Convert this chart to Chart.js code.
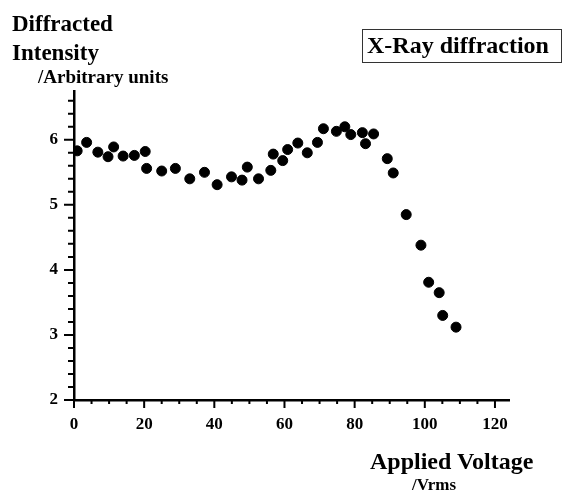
<!DOCTYPE html>
<html lang="en">
<head>
    <meta charset="UTF-8">
    <title>X-Ray diffraction</title>
    <script src="https://cdn.jsdelivr.net/npm/chart.js"></script>
    <style>
        body {
            margin: 0;
            background: #fff;
            font-family: 'Liberation Serif', 'Times New Roman', serif;
            font-weight: bold;
            color: #000;
        }
        .wrap {
            position: relative;
            width: 570px;
            height: 494px;
            overflow: hidden;
        }
        .lbl {
            position: absolute;
            white-space: nowrap;
            line-height: 1;
        }
        .box {
            position: absolute;
            left: 362px;
            top: 29px;
            width: 200px;
            height: 34px;
            border: 1px solid #333;
            box-sizing: border-box;
        }
    </style>
</head>
<body>
<div class="wrap">
    <canvas id="xrdChart" width="570" height="494"></canvas>
    <div class="lbl" style="left:12px;top:12px;font-size:23px;">Diffracted</div>
    <div class="lbl" style="left:12px;top:41px;font-size:23px;">Intensity</div>
    <div class="lbl" style="left:38px;top:67px;font-size:19px;">/Arbitrary units</div>
    <div class="box"></div>
    <div class="lbl" style="left:367px;top:33px;font-size:24px;">X-Ray diffraction</div>
    <div class="lbl" style="left:370px;top:449px;font-size:24px;">Applied Voltage</div>
    <div class="lbl" style="left:412px;top:476px;font-size:17px;">/Vrms</div>
</div>

<script>
    // applied voltage (Vrms) and diffracted intensity
    const voltage = [0.9, 3.6, 6.8, 9.7, 11.3, 14.0, 17.2, 20.3, 20.7, 25.0, 28.9, 33.0, 37.2, 40.8,
        44.9, 47.9, 49.4, 52.6, 56.1, 56.8, 59.5, 60.9, 63.8, 66.5, 69.4, 71.1, 74.8, 77.2,
        78.9, 82.2, 83.1, 85.4, 89.3, 91.0, 94.7, 98.9, 101.1, 104.1, 105.1, 108.9];
    const intensity = [5.83, 5.96, 5.81, 5.74, 5.89, 5.75, 5.76, 5.82, 5.56, 5.52, 5.56, 5.40, 5.50, 5.31,
        5.43, 5.38, 5.58, 5.40, 5.53, 5.78, 5.68, 5.85, 5.95, 5.80, 5.96, 6.17, 6.13, 6.20,
        6.08, 6.11, 5.94, 6.09, 5.71, 5.49, 4.85, 4.38, 3.81, 3.65, 3.30, 3.12];
    const xTicks = [0, 20, 40, 60, 80, 100, 120];
    const yTicks = [2, 3, 4, 5, 6];

    const points = voltage.map((v, i) => ({ x: v, y: intensity[i] }));
    const tickFont = { family: "'Liberation Serif', 'Times New Roman', serif", size: 17, weight: 'bold' };

    // major + minor tick marks drawn outside the axes, like the original plot
    const tickMarks = {
        id: 'tickMarks',
        beforeDatasetsDraw(chart) {
            const c = chart.ctx;
            const xs = chart.scales.x, ys = chart.scales.y;
            const left = chart.chartArea.left, bottom = chart.chartArea.bottom;
            c.save();
            c.strokeStyle = '#000';
            c.lineWidth = 2;
            c.beginPath();
            for (let v = 0; v <= 120; v += 5) {
                const px = xs.getPixelForValue(v);
                const len = v % 20 === 0 ? 8 : 4;
                c.moveTo(px, bottom);
                c.lineTo(px, bottom + len);
            }
            for (let k = 0; k <= 23; k++) {
                const v = 2 + k * 0.2;
                const py = ys.getPixelForValue(v);
                const len = k % 5 === 0 ? 10 : 6;
                c.moveTo(left, py);
                c.lineTo(left - len, py);
            }
            c.stroke();
            c.restore();
        }
    };

    new Chart(document.getElementById('xrdChart'), {
        type: 'scatter',
        data: {
            datasets: [{
                data: points,
                backgroundColor: '#000',
                borderColor: '#000',
                pointRadius: 5,
                pointHoverRadius: 5
            }]
        },
        options: {
            responsive: false,
            animation: false,
            layout: { padding: { left: 0, top: 91, right: 61, bottom: 0 } },
            plugins: { legend: { display: false }, tooltip: { enabled: false } },
            scales: {
                x: {
                    type: 'linear',
                    min: 0,
                    max: 124,
                    afterBuildTicks: s => { s.ticks = xTicks.map(v => ({ value: v })); },
                    afterFit: s => { s.height = 94; },
                    grid: { display: false, drawTicks: false },
                    border: { display: true, color: '#000', width: 2.5 },
                    ticks: { color: '#000', font: tickFont, padding: 14, maxRotation: 0 }
                },
                y: {
                    type: 'linear',
                    min: 2,
                    max: 6.75,
                    afterBuildTicks: s => { s.ticks = yTicks.map(v => ({ value: v })); },
                    afterFit: s => { s.width = 74; },
                    grid: { display: false, drawTicks: false },
                    border: { display: true, color: '#000', width: 2.5 },
                    ticks: { color: '#000', font: tickFont, padding: 16 }
                }
            }
        },
        plugins: [tickMarks]
    });
</script>
</body>
</html>
